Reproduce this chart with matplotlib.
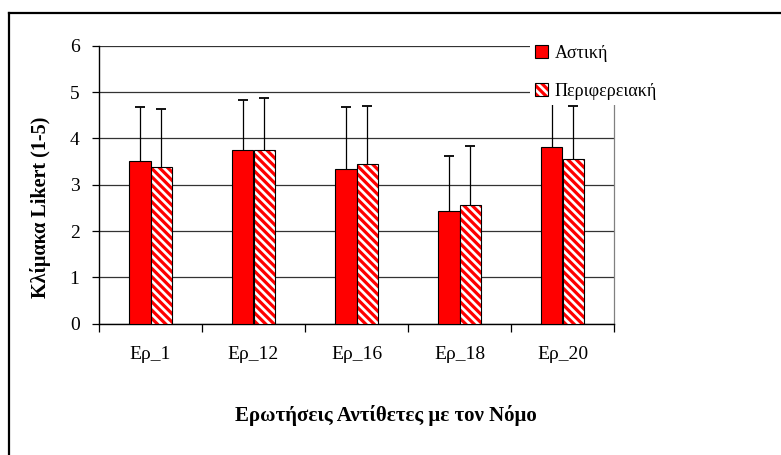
import matplotlib
matplotlib.use("Agg")
import matplotlib.pyplot as plt
import numpy as np
from matplotlib.lines import Line2D

categories = ["Ερ_1", "Ερ_12", "Ερ_16", "Ερ_18", "Ερ_20"]
series_names = ["Αστική", "Περιφερειακή"]
astiki = [3.52, 3.74, 3.34, 2.43, 3.81]
astiki_sd = [1.15, 1.09, 1.33, 1.20, 1.20]
perif = [3.38, 3.75, 3.44, 2.57, 3.55]
perif_sd = [1.25, 1.13, 1.26, 1.27, 1.15]
yticks = [0, 1, 2, 3, 4, 5, 6]
ylabel = "Κλίμακα Likert (1-5)"
xlabel = "Ερωτήσεις Αντίθετες με τον Νόμο"

plt.rcParams['font.family'] = ['Liberation Serif', 'DejaVu Serif']
plt.rcParams['hatch.linewidth'] = 2.3
plt.rcParams['hatch.color'] = 'red'

W, H = 781, 455
fig = plt.figure(figsize=(W / 100, H / 100), dpi=100)
ax = fig.add_axes([99 / W, 1 - 323.7 / H, (614 - 99) / W, (323.7 - 45.7) / H])

x = np.arange(len(categories))
w = 0.213
b1 = ax.bar(x - w / 2, astiki, w, color='#ff0000', edgecolor='black', linewidth=0.8, zorder=3,
            label=series_names[0])
b2 = ax.bar(x + w / 2, perif, w, color='white', edgecolor='black', linewidth=0.8, hatch='\\\\\\\\',
            zorder=3, label=series_names[1])
for p in b2:
    p._hatch_color = (1, 0, 0, 1)

for xs, vals, sds in ((x - w / 2, astiki, astiki_sd), (x + w / 2, perif, perif_sd)):
    tops = np.array(vals) + np.array(sds)
    ax.vlines(xs, vals, tops, color='black', linewidth=0.9, zorder=2)
    ax.plot(xs, tops, linestyle='none', marker='_', markersize=6.5, markeredgewidth=1.3,
            color='black', zorder=2)

ax.set_xlim(-0.5, len(categories) - 0.5)
ax.set_ylim(0, 6)
ax.set_yticks(yticks)
ax.set_yticklabels([str(t) for t in yticks], fontsize=14)
ax.yaxis.grid(True, color='#333333', linewidth=0.9, zorder=1)
ax.set_axisbelow(True)

ax.set_xticks(np.arange(-0.5, len(categories), 1.0))
ax.set_xticklabels([])
ax.set_xticks(x, minor=True)
ax.set_xticklabels(categories, minor=True, fontsize=14)
ax.tick_params(axis='x', which='major', length=6, width=0.9, direction='out')
ax.tick_params(axis='x', which='minor', length=0, pad=16)
ax.tick_params(axis='y', length=5, width=0.9, direction='out', pad=9)

for s in ['left', 'bottom']:
    ax.spines[s].set_color('black')
    ax.spines[s].set_linewidth(1.0)
ax.spines['right'].set_color('#808080')
ax.spines['right'].set_linewidth(0.9)
ax.spines['top'].set_visible(False)

fig.text(41 / W, 1 - 207 / H, ylabel, rotation=90, ha='center', va='center',
         fontsize=14.5, fontweight='bold')
fig.text(386 / W, 1 - 416 / H, xlabel, ha='center', va='center', fontsize=15, fontweight='bold')

leg = ax.legend(loc='upper left', bbox_to_anchor=(530 / W, 1 - 40 / H), bbox_transform=fig.transFigure,
                fontsize=13, frameon=True, fancybox=False, framealpha=1, facecolor='white',
                edgecolor='none', handlelength=0.75, handleheight=0.75, handletextpad=0.35,
                labelspacing=1.2, borderpad=0.25, borderaxespad=0)
leg.set_zorder(10)
for h in leg.legend_handles:
    h.set_linewidth(0.8)
leg.legend_handles[1]._hatch_color = (1, 0, 0, 1)

fig.add_artist(Line2D([9 / W, 1.0], [1 - 13 / H, 1 - 13 / H], color='black', linewidth=1.6))
fig.add_artist(Line2D([9 / W, 9 / W], [0, 1 - 13 / H], color='black', linewidth=1.6))

fig.savefig('out.png', dpi=100)
